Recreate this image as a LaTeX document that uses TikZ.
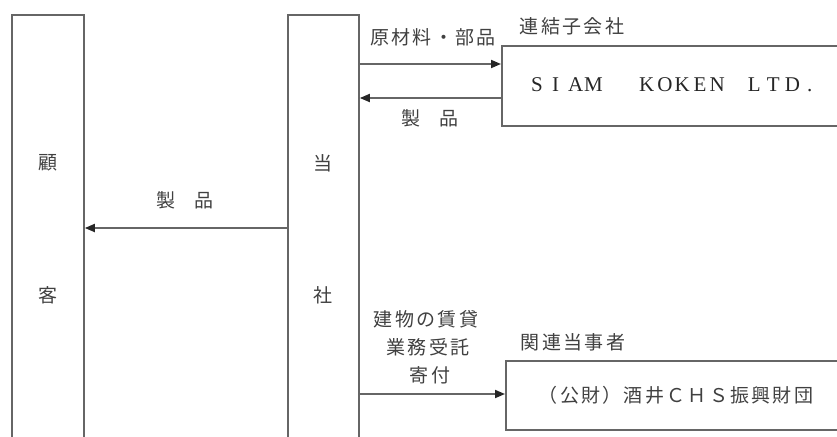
\documentclass[tikz,border=0pt]{standalone}
\usepackage{fontspec}
\setmainfont{Noto Sans CJK JP}[LetterSpace=12]
\newfontfamily\lserif{Liberation Serif}
\usetikzlibrary{arrows.meta}
\definecolor{lineg}{HTML}{666666}
\definecolor{textg}{HTML}{404040}
\tikzset{
  box/.style={draw=lineg, line width=1.8pt, fill=none, inner sep=0pt, anchor=north west},
  conn/.style={draw=lineg, line width=1.8pt, -{Triangle[length=10pt,width=8pt,color=black!85]}},
  lbl/.style={text=textg, font=\fontsize{19}{21}\selectfont, inner sep=0pt},
}
\newcommand{\hs}[1]{\hspace{#1pt}}
\begin{document}
\begin{tikzpicture}[x=1pt,y=-1pt]
\useasboundingbox (0,0) rectangle (837,436);
\clip (0,0) rectangle (837,436);
% boxes
\node[box, minimum width=72pt, minimum height=460pt] (kokyaku) at (11,14) {};
\node[box, minimum width=71pt, minimum height=460pt] (tosha) at (287,14) {};
\node[box, minimum width=360pt, minimum height=80pt] (siam) at (501,45) {};
\node[box, minimum width=360pt, minimum height=69pt] (chs) at (505,360) {};
% box texts
\node[lbl] (k1) at (48,163) {顧};
\node[lbl] (k2) at (48,295) {客};
\node[lbl] (t1) at (323,163) {当};
\node[lbl] (t2) at (323,295) {社};
\node[text=black!85, inner sep=0pt, anchor=west] (siamtxt) at (531,85)
  {\lserif\fontsize{21}{23}\selectfont S\hs{9.3}I\hs{8.9}A\hs{1}M\hs{36.3}K\hs{3}O\hs{2}K\hs{4}E\hs{3.2}N\hs{23}L\hs{6.2}T\hs{5.2}D\hs{7}.};
\node[lbl] (chstxt) at (676,395) {（公財）酒井ＣＨＳ振興財団};
% headings
\node[lbl] (renketsu) at (572,26) {連結子会社};
\node[lbl] (kanren) at (573,342) {関連当事者};
% connectors
\draw[conn] (tosha.east |- 0,64) -- (siam.west |- 0,64);
\draw[conn] (siam.west |- 0,98) -- (tosha.east |- 0,98);
\draw[conn] (tosha.west |- 0,228) -- (kokyaku.east |- 0,228);
\draw[conn] (tosha.east |- 0,394) -- (chs.west |- 0,394);
% connector labels
\node[lbl] (l1) at (433,37) {原材料・部品};
\node[lbl] (l2) at (430,118) {製\hspace{1em}品};
\node[lbl] (l3) at (185,200) {製\hspace{1em}品};
\node[lbl] (l4) at (426,319) {建物の賃貸};
\node[lbl] (l5) at (428,347) {業務受託};
\node[lbl] (l6) at (430,375) {寄付};
\end{tikzpicture}
\end{document}
